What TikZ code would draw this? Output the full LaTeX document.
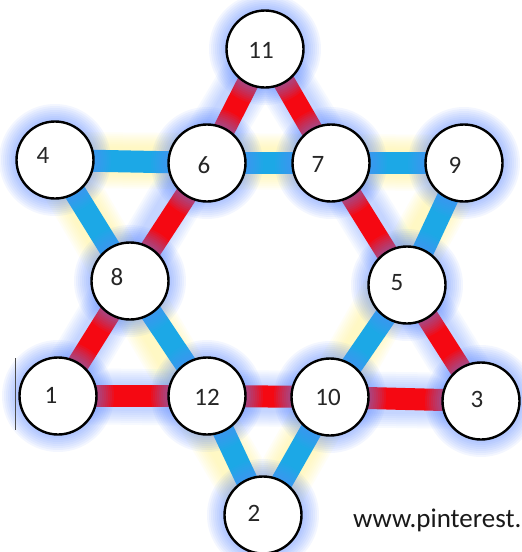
\documentclass[tikz,border=0pt]{standalone}
\usepackage{fontspec}
\setmainfont{Carlito}
\definecolor{bandred}{RGB}{245,8,18}
\definecolor{bandblue}{RGB}{28,168,230}
\definecolor{haloblue}{RGB}{95,140,255}
\definecolor{haloyellow}{RGB}{255,248,150}
\pgfdeclarelayer{paper}
\pgfdeclarelayer{lineglow}
\pgfdeclarelayer{bands}
\pgfdeclarelayer{discglow}
\pgfsetlayers{paper,lineglow,bands,discglow,main}
\tikzset{
  disc/.style={circle, draw=black, line width=2.4pt, fill=white, minimum size=77pt, inner sep=0pt},
  lbl/.style={font=\fontsize{25}{25}\selectfont, inner sep=0pt, text=black!85},
  redband/.style={draw=bandred, line width=22pt, line join=miter},
  blueband/.style={draw=bandblue, line width=22pt, line join=miter},
}
\begin{document}
\begin{tikzpicture}[x=1pt,y=-1pt]
\useasboundingbox (0,0) rectangle (522,552);
\begin{pgfonlayer}{paper}
\fill[white] (0,0) rectangle (522,552);
\end{pgfonlayer}
% discs
\node[disc] (n11) at (265,49) {};
\node[disc] (n4) at (55,160) {};
\node[disc] (n6) at (207,163) {};
\node[disc] (n7) at (331,163) {};
\node[disc] (n9) at (464,163) {};
\node[disc] (n8) at (130,281) {};
\node[disc] (n5) at (407,285) {};
\node[disc] (n1) at (58,396) {};
\node[disc] (n12) at (207,396) {};
\node[disc] (n10) at (330,397) {};
\node[disc] (n3) at (481,401) {};
\node[disc] (n2) at (263,515) {};
% labels
\node[lbl] (t11) at (261,50) {11};
\node[lbl] (t4) at (43,155) {4};
\node[lbl] (t6) at (204,165) {6};
\node[lbl] (t7) at (318,164) {7};
\node[lbl] (t9) at (455,165) {9};
\node[lbl] (t8) at (117,277) {8};
\node[lbl] (t5) at (397,283) {5};
\node[lbl] (t1) at (51,395) {1};
\node[lbl] (t12) at (207,397) {12};
\node[lbl] (t10) at (328,397) {10};
\node[lbl] (t3) at (477,399) {3};
\node[lbl] (t2) at (254,513) {2};
\node[anchor=base west, inner sep=0pt, font=\fontsize{27}{27}\selectfont, text=black!90] (src) at (353,527) {www.pinterest.};
\draw[black!70, line width=1pt] (15,358) -- (15,430);
% line glows
\begin{pgfonlayer}{lineglow}
  \foreach \w in {56,52,48,44,40,36,32,28}{
    \draw[haloyellow, line width=\w pt, opacity=0.09, line join=round]
      (n4.center) -- (n9.center) -- (n2.center) -- cycle;
    \draw[haloblue, line width=\w pt, opacity=0.05, line join=round]
      (n11.center) -- (n3.center) -- (n1.center) -- cycle;
  }
\end{pgfonlayer}
% bands
\begin{pgfonlayer}{bands}
  \foreach \a/\b in {n4/n6,n6/n7,n7/n9,n9/n5,n5/n10,n10/n2,n2/n12,n12/n8,n8/n4}
    \draw[blueband] (\a.center) -- (\b.center);
  \foreach \a/\b in {n11/n6,n6/n8,n8/n1,n1/n12,n12/n10,n10/n3,n3/n5,n5/n7,n7/n11}
    \draw[redband] (\a.center) -- (\b.center);
\end{pgfonlayer}
% disc glows
\begin{pgfonlayer}{discglow}
  \foreach \n in {n11,n4,n6,n7,n9,n8,n5,n1,n12,n10,n3,n2}{
    \foreach \r in {56,54,52,50,48,46,44,42,40}
      \fill[haloblue, opacity=0.07] (\n.center) circle (\r pt);
  }
\end{pgfonlayer}
\end{tikzpicture}
\end{document}
